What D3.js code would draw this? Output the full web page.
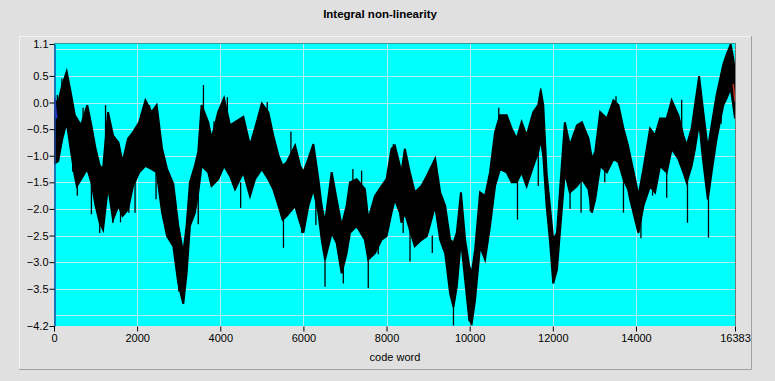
<!DOCTYPE html>
<html><head><meta charset="utf-8">
<script src="https://cdn.jsdelivr.net/npm/d3@7"></script>
<style>html,body{margin:0;padding:0;background:#e0e0e0;}svg{display:block;}</style>
</head><body>
<script>
// ---- data ----
const title = "Integral non-linearity";
const xLabel = "code word";
const xTicks = [0, 2000, 4000, 6000, 8000, 10000, 12000, 14000, 16383];
const yTicks = [1.1, 0.5, 0.0, -0.5, -1.0, -1.5, -2.0, -2.5, -3.0, -3.5, -4.2];
const yGrid = [1.0, 0.5, 0.0, -0.5, -1.0, -1.5, -2.0, -2.5, -3.0, -3.5, -4.0];
// envelope of the dense INL trace: code, upper value, lower value
const codes = [0,100,200,305,400,500,550,650,800,900,1000,1100,1180,1300,1420,1550,1650,1780,1900,2050,2200,2350,2470,2600,2720,2870,2990,3110,3190,3270,3390,3470,3550,3710,3790,3950,4090,4235,4355,4555,4715,4835,5000,5155,5275,5400,5500,5600,5800,5920,6000,6120,6240,6360,6440,6520,6680,6800,6920,7040,7120,7280,7480,7560,7720,7880,8000,8120,8200,8320,8360,8440,8560,8680,8840,8970,9170,9290,9410,9530,9610,9690,9790,9890,9990,10050,10130,10250,10370,10490,10610,10730,10890,11010,11130,11250,11370,11530,11650,11710,11770,11850,11930,12010,12100,12170,12290,12410,12580,12700,12860,12940,13020,13140,13300,13460,13580,13700,13810,13860,13980,14060,14180,14340,14460,14580,14740,14860,15020,15140,15220,15340,15420,15520,15620,15730,15820,15940,16100,16180,16280,16340,16383];
const upper = [0.05,0.0,0.33,0.58,0.2,-0.24,-0.3,-0.43,-0.05,-0.43,-0.87,-1.19,-1.25,-0.18,-0.62,-0.75,-1.12,-0.68,-0.56,-0.37,0.04,-0.18,-0.05,-0.87,-1.25,-1.53,-2.32,-2.83,-2.32,-1.5,-1.19,-0.93,-0.05,-0.37,-0.68,-0.18,0.08,-0.43,-0.37,-0.27,-0.81,-0.49,-0.02,-0.18,-0.62,-1.0,-1.19,-1.12,-0.81,-1.19,-1.31,-1.06,-0.78,-1.44,-1.94,-2.26,-1.31,-1.82,-2.32,-1.94,-1.5,-1.44,-1.63,-2.2,-1.76,-1.57,-1.44,-0.87,-0.81,-1.19,-1.31,-0.87,-1.31,-1.69,-1.57,-1.38,-1.06,-1.69,-1.94,-2.58,-2.64,-2.45,-1.69,-2.58,-3.08,-3.21,-2.77,-1.69,-1.76,-1.31,-0.56,-0.24,-0.24,-0.49,-0.68,-0.37,-0.62,-0.18,-0.05,0.23,-0.05,-1.31,-1.94,-2.58,-2.45,-1.69,-0.37,-0.81,-0.43,-0.37,-0.68,-1.06,-0.93,-0.18,-0.3,0.04,-0.05,-0.49,-0.81,-1.0,-1.44,-1.76,-1.25,-0.49,-0.62,-0.3,-0.3,0.04,-0.24,-0.62,-0.81,-0.49,-0.05,0.49,-0.18,-0.87,-0.43,0.14,0.71,0.9,1.09,0.83,0.58];
const lower = [-1.15,-1.1,-0.68,-0.37,-0.87,-1.38,-1.57,-1.44,-1.25,-1.5,-1.94,-2.26,-2.39,-1.57,-2.2,-1.94,-2.13,-2.01,-1.57,-1.31,-1.19,-1.25,-1.31,-2.07,-2.51,-2.7,-3.4,-3.78,-3.21,-2.32,-2.07,-1.69,-1.19,-1.31,-1.57,-1.44,-1.19,-1.38,-1.63,-1.31,-1.76,-1.44,-1.25,-1.44,-1.63,-1.94,-2.2,-2.13,-1.94,-2.26,-2.45,-1.94,-1.63,-2.07,-2.58,-2.95,-2.45,-2.64,-3.21,-2.83,-2.45,-2.32,-2.58,-2.95,-2.83,-2.58,-2.51,-2.07,-1.82,-2.07,-2.26,-2.07,-2.39,-2.7,-2.58,-2.51,-1.94,-2.58,-2.83,-3.59,-3.84,-3.46,-2.58,-3.33,-4.09,-4.15,-3.71,-2.7,-2.95,-2.32,-1.57,-1.25,-1.31,-1.5,-1.5,-1.31,-1.57,-1.19,-0.93,-0.68,-1.0,-1.94,-2.58,-3.4,-3.14,-2.45,-1.31,-1.69,-1.57,-1.44,-1.63,-2.07,-1.82,-1.19,-1.31,-1.06,-1.12,-1.44,-1.63,-1.82,-2.2,-2.45,-1.94,-1.57,-1.69,-1.19,-1.31,-0.87,-1.06,-1.31,-1.5,-1.19,-0.87,-0.37,-1.12,-1.82,-1.31,-0.68,-0.05,0.08,0.27,-0.05,-0.3];
// isolated needles sticking out of the band: code, from value, to value
const spikeCodes = [80,190,450,560,700,900,1050,1100,1240,1420,1600,1800,1950,2100,2300,2455,3000,3470,3595,3850,4170,4490,4900,5130,5520,5700,5960,6300,6520,6960,7190,7400,7560,7800,8165,8400,8565,9100,9350,9610,10030,10450,10700,11150,11450,11650,11710,12415,12680,12900,13250,13520,13700,14120,14400,14740,15100,15240,15520,15745,16050];
const spikeFrom  = [-0.5,-0.2,-0.6,-1.2,-0.6,-1.5,-1.5,-1.8,-0.8,-1.8,-1.2,-1.6,-1.5,-0.8,-0.6,-1.3,-2.8,-1.6,-0.3,-0.9,-0.5,-1.5,-0.8,-0.4,-2.1,-1.0,-1.6,-1.2,-2.9,-3.0,-1.6,-1.8,-2.9,-2.0,-1.2,-1.6,-2.3,-2.5,-2.0,-3.8,-4.0,-1.6,-0.5,-1.4,-1.0,-0.9,-0.1,-1.6,-1.4,-1.0,-1.2,-0.4,-1.4,-1.6,-1.0,-1.3,-0.6,-1.4,0.2,-1.8,-0.4];
const spikeTo    = [0.14,0.45,-1.3,-1.75,-0.1,-2.1,-2.05,-2.45,-0.05,-2.26,-2.25,-2.07,-2.07,-0.2,-0.05,-1.82,-3.55,-2.29,0.33,-0.35,0.1,-1.98,-0.3,0.01,-2.73,-0.55,-2.45,-2.3,-3.46,-3.40,-1.25,-1.28,-3.49,-2.85,-0.78,-2.45,-2.99,-2.83,-2.75,-4.19,-4.19,-2.4,-0.1,-2.2,-0.4,-1.57,0.27,-2.0,-2.07,-2.05,-1.5,0.12,-2.07,-2.55,-1.75,-1.79,0.05,-2.26,0.5,-2.54,0.4];
// coloured marks at the start (blue) and end (red) of the trace
const startMarkCodes = [0, 60];
const startMarkValues = [0.1, -0.3];
const endMarkCodes = [16340, 16383];
const endMarkValues = [0.35, 0.02];

// ---- drawing ----
const W = 775, H = 381;
const svg = d3.select("body").append("svg").attr("width", W).attr("height", H);
svg.append("rect").attr("width", W).attr("height", H).attr("fill", "#e0e0e0");

// panel frame
const P = {l: 19, t: 36, r: 751, b: 369};
svg.append("path").attr("d", `M${P.l+0.5},${P.b}V${P.t+0.5}H${P.r}`).attr("stroke", "#f4f4f4").attr("fill", "none");
svg.append("path").attr("d", `M${P.l},${P.b+0.5}H${P.r+0.5}V${P.t}`).attr("stroke", "#a0a0a0").attr("fill", "none");

const x = d3.scaleLinear().domain([0, 16383]).range([54, 735]);
const y = d3.scaleLinear().domain([-4.2, 1.1]).range([326, 44]);

svg.append("rect").attr("x", 54).attr("y", 44).attr("width", 681).attr("height", 282).attr("fill", "#00ffff");

// grid
const g = svg.append("g");
g.selectAll("line.h").data(yGrid).join("line")
  .attr("x1", 54).attr("x2", 735).attr("y1", d => Math.round(y(d)) + 0.5).attr("y2", d => Math.round(y(d)) + 0.5)
  .attr("stroke", "#b4eef6").attr("stroke-width", 1);
g.selectAll("line.v").data(xTicks.slice(1, -1)).join("line")
  .attr("y1", 44).attr("y2", 326).attr("x1", d => Math.round(x(d)) + 0.5).attr("x2", d => Math.round(x(d)) + 0.5)
  .attr("stroke", "#b4eef6").attr("stroke-width", 1);

// trace
svg.append("clipPath").attr("id", "pc").append("rect").attr("x", 54).attr("y", 44).attr("width", 681).attr("height", 282);
const env = codes.map((c, i) => ({c, u: upper[i], l: lower[i]}));
const area = d3.area().x(d => x(d.c)).y0(d => y(d.l)).y1(d => y(d.u));
const tr = svg.append("g").attr("clip-path", "url(#pc)");
tr.append("path").datum(env).attr("d", area).attr("fill", "#000").attr("stroke", "#000").attr("stroke-width", 2).attr("stroke-linejoin", "miter");
tr.selectAll("line.sp").data(spikeCodes.map((c, i) => ({c, a: spikeFrom[i], b: spikeTo[i]}))).join("line")
  .attr("x1", d => x(d.c)).attr("x2", d => x(d.c)).attr("y1", d => y(d.a)).attr("y2", d => y(d.b))
  .attr("stroke", "#000").attr("stroke-width", 1.3);
tr.append("path").datum(startMarkCodes.map((c, i) => [c, startMarkValues[i]]))
  .attr("d", d3.line().x(d => x(d[0])).y(d => y(d[1]))).attr("stroke", "#2030c0").attr("stroke-width", 2.5).attr("fill", "none");
tr.append("path").datum(endMarkCodes.map((c, i) => [c, endMarkValues[i]]))
  .attr("d", d3.line().x(d => x(d[0])).y(d => y(d[1]))).attr("stroke", "#c03020").attr("stroke-width", 1.5).attr("fill", "none");

// plot borders
svg.append("line").attr("x1", 54).attr("x2", 736).attr("y1", 43.5).attr("y2", 43.5).attr("stroke", "#3a9a9a");
svg.append("line").attr("x1", 735.5).attr("x2", 735.5).attr("y1", 44).attr("y2", 326).attr("stroke", "#7a7a7a");

// axes
const yAxis = d3.axisLeft(y).tickValues(yTicks).tickSize(5).tickSizeOuter(0).tickFormat(d3.format(".1f"));
const ya = svg.append("g").attr("transform", "translate(54.5,0)").call(yAxis);
ya.select(".domain").attr("stroke", "#1c4aa0").attr("stroke-width", 1.5);
ya.selectAll(".tick line").attr("stroke", "#000");
ya.selectAll(".tick text").attr("font-family", "Liberation Sans, Arial, sans-serif").attr("font-size", 11).attr("fill", "#000").attr("x", -6);

const xAxis = d3.axisBottom(x).tickValues(xTicks).tickSize(5).tickSizeOuter(0).tickFormat(d3.format("d"));
const xa = svg.append("g").attr("transform", "translate(0,326.5)").call(xAxis);
xa.select(".domain").remove();
xa.selectAll(".tick line").attr("stroke", "#000");
xa.selectAll(".tick text").attr("font-family", "Liberation Sans, Arial, sans-serif").attr("font-size", 11).attr("fill", "#000").attr("y", 8);

svg.append("text").attr("x", 380).attr("y", 18).attr("text-anchor", "middle")
  .attr("font-family", "Liberation Sans, Arial, sans-serif").attr("font-weight", "bold").attr("font-size", 11.5).text(title);
svg.append("text").attr("x", 395).attr("y", 361).attr("text-anchor", "middle")
  .attr("font-family", "Liberation Sans, Arial, sans-serif").attr("font-size", 11).text(xLabel);
</script>
</body></html>
